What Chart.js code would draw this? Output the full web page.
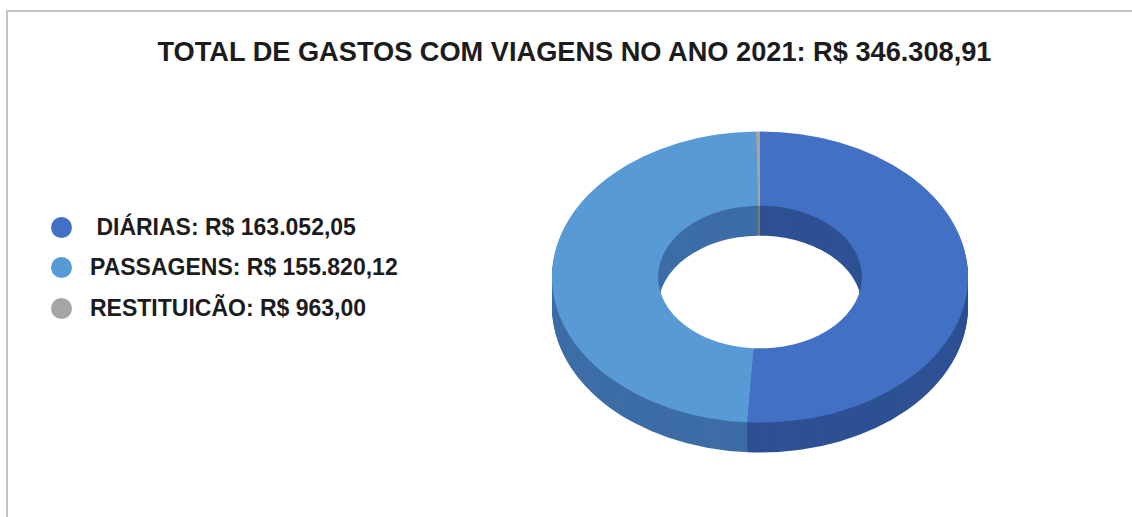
<!doctype html>
<html>

<head>
	<meta charset="utf-8">
	<title>Gastos com viagens 2021</title>
	<script src="https://cdn.jsdelivr.net/npm/chart.js@4.4.1/dist/chart.umd.min.js"></script>
	<style>
	body {
		margin: 0;
		background: #fff;
		font-family: 'Liberation Sans', Arial, sans-serif;
	}
	.frame {
		position: absolute;
		left: 6px;
		top: 10px;
		width: 1200px;
		height: 600px;
		border-left: 2px solid #c4c4c4;
		border-top: 2px solid #c4c4c4;
	}
	.title {
		position: absolute;
		left: 0;
		top: 37px;
		width: 1149px;
		line-height: 30px;
		text-align: center;
		font-size: 27.2px;
		font-weight: bold;
		color: #1c1c1c;
	}
	.legend {
		position: absolute;
		left: 51px;
		top: 207px;
		margin: 0;
		padding: 0;
		list-style: none;
	}
	.legend li {
		display: flex;
		align-items: center;
		height: 40.5px;
		font-size: 23px;
		font-weight: bold;
		color: #1c1c1c;
		white-space: pre;
	}
	.legend .dot {
		width: 21px;
		height: 21px;
		border-radius: 50%;
		margin-right: 18px;
	}
	.chart-box {
		position: absolute;
		left: 530px;
		top: 97px;
	}
	</style>
</head>

<body>
	<div class="frame"></div>
	<div class="title" id="title"></div>
	<ul class="legend" id="legend"></ul>
	<div class="chart-box">
		<canvas id="chart" width="460" height="360"></canvas>
	</div>
	<script>
		var categories = [' DI\u00C1RIAS', 'PASSAGENS', 'RESTITUIC\u00C3O'];
		var values = [163052.05, 155820.12, 963.00];
		var totalYear = 346308.91;
		var year = 2021;

		var topColors = ['#4270C4', '#589AD6', '#A5A5A5'];
		var sideColors = ['#2D5193', '#3D6DA6', '#7A7A7A'];

		// thickness of the ring wall and vertical squash of the top face
		var depth = 30;
		var tilt = 0.70;

		function brl(v) {
			var parts = v.toFixed(2).split('.');
			var intPart = parts[0].replace(/\B(?=(\d{3})+(?!\d))/g, '.');
			return intPart + ',' + parts[1];
		}

		document.getElementById('title').textContent =
			'TOTAL DE GASTOS COM VIAGENS NO ANO ' + year + ': R$ ' + brl(totalYear);

		var legend = document.getElementById('legend');
		categories.forEach(function(name, i) {
			var li = document.createElement('li');
			var dot = document.createElement('span');
			dot.className = 'dot';
			dot.style.background = topColors[i];
			li.appendChild(dot);
			li.appendChild(document.createTextNode(name + ': R$ ' + brl(values[i])));
			legend.appendChild(li);
		});

		// squashes the doughnut into an ellipse and extrudes it downwards
		var ring3d = {
			id: 'ring3d',
			beforeDatasetsDraw: function(chart) {
				var ctx = chart.ctx;
				var arcs = chart.getDatasetMeta(0).data;
				var cx = arcs[0].x;
				var cy = arcs[0].y;
				ctx.save();
				ctx.translate(cx, cy);
				ctx.scale(1, tilt);
				ctx.translate(-cx, -cy);
				for (var d = depth; d > 0; d--) {
					arcs.forEach(function(arc, i) {
						var p = arc.getProps(['x', 'y', 'startAngle', 'endAngle', 'innerRadius', 'outerRadius']);
						var y = p.y + d / tilt;
						ctx.beginPath();
						ctx.arc(p.x, y, p.outerRadius, p.startAngle, p.endAngle);
						ctx.arc(p.x, y, p.innerRadius, p.endAngle, p.startAngle, true);
						ctx.closePath();
						ctx.fillStyle = sideColors[i];
						ctx.fill();
					});
				}
			},
			afterDatasetsDraw: function(chart) {
				chart.ctx.restore();
			}
		};

		new Chart(document.getElementById('chart').getContext('2d'), {
			type: 'doughnut',
			data: {
				labels: categories,
				datasets: [{
					data: values,
					backgroundColor: topColors,
					borderWidth: 0,
					clip: false
				}]
			},
			options: {
				responsive: false,
				animation: false,
				events: [],
				radius: 208,
				cutout: '49%',
				layout: { padding: 0 },
				plugins: {
					legend: { display: false },
					title: { display: false },
					tooltip: { enabled: false }
				}
			},
			plugins: [ring3d]
		});
	</script>
</body>

</html>
